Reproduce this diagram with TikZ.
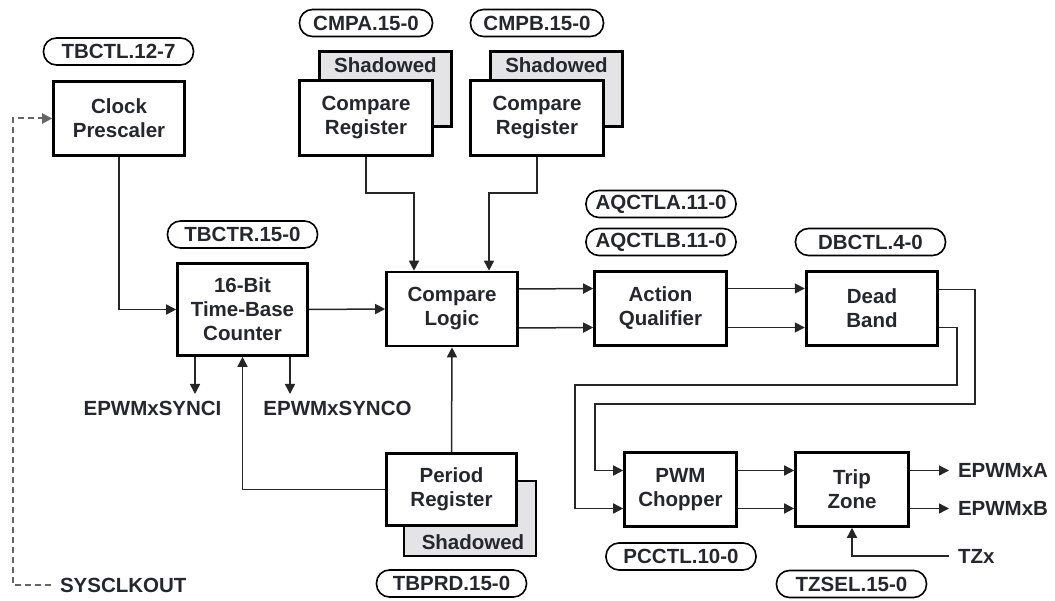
\documentclass[tikz,border=0pt]{standalone}
\usepackage{fontspec}
\setmainfont{Liberation Sans}
\usetikzlibrary{arrows.meta,calc}
\definecolor{ink}{HTML}{26262E}
\definecolor{shade}{HTML}{E4E4E6}
\begin{document}
\begin{tikzpicture}[x=1pt,y=-1pt,
    >={Triangle[length=10pt,width=10pt]},
    every node/.style={font=\fontsize{20.5}{24}\selectfont\bfseries,text=ink},
    blk/.style={draw=black,line width=2.6pt,fill=white,align=center,
                inner sep=0pt,minimum width=131pt,minimum height=74pt},
    shd/.style={draw=black,line width=2.6pt,fill=shade,
                minimum width=132pt,minimum height=75pt},
    reg/.style={draw=black,line width=1.6pt,rounded corners=13pt,
                inner sep=0pt,minimum width=150pt,minimum height=27pt},
    lbl/.style={inner sep=0pt,outer xsep=9pt},
    wire/.style={line width=1.5pt,draw=black!85},
    dwire/.style={line width=2pt,draw=black!60,dash pattern=on 6pt off 4pt}]
  \useasboundingbox (0,0) rectangle (1055,601);
  %-------------------------------------------------- clock and time base
  \node[reg] (tbctl) at (118.5,51.5) {TBCTL.12-7};
  \node[blk] (clk) at (119,118.5) {Clock\\Prescaler};
  \node[reg] (tbctr) at (242.5,234.5) {TBCTR.15-0};
  \node[blk,minimum height=92pt,minimum width=130pt] (tbc) at (242.5,309.5)
    {16-Bit\\Time-Base\\Counter};
  \node (synci) at (152.5,408) {EPWMxSYNCI};
  \node (synco) at (337.5,408) {EPWMxSYNCO};
  \node[lbl,anchor=west] (sysclk) at (51,585) {SYSCLKOUT};
  \coordinate (sitip) at (195,394);
  \coordinate (sotip) at (290,394);
  %-------------------------------------------------- compare registers
  \foreach \n/\x/\r in {a/366/CMPA.15-0,b/537/CMPB.15-0}{
    \node[shd] (s\n) at (\x+19.5,89) {};
    \node (s\n t) at ($(s\n.north)+(0,15)$) {Shadowed};
    \node[blk,minimum width=133pt,minimum height=75pt] (c\n) at (\x,118)
      {Compare\\Register};
    \node[reg,minimum width=133pt] (cmp\n) at (\x,23) {\r};
  }
  \node[blk] (cl) at (452,309) {Compare\\Logic};
  %-------------------------------------------------- period register
  \node[shd] (sp) at (470,518.5) {};
  \node (spt) at ($(sp.south)+(3,-15)$) {Shadowed};
  \node[blk,minimum width=130pt,minimum height=72pt] (pr) at (451.5,489.5)
    {Period\\Register};
  \node[reg] (tbprd) at (451.5,583.5) {TBPRD.15-0};
  %-------------------------------------------------- output chain
  \node[reg] (aqa) at (661,204) {AQCTLA.11-0};
  \node[reg] (aqb) at (661,242) {AQCTLB.11-0};
  \node[blk,minimum width=132pt] (aq) at (660.5,308.5) {Action\\Qualifier};
  \node[reg] (dbctl) at (870.5,242) {DBCTL.4-0};
  \node[blk] (db) at (872,308.5) {Dead\\Band};
  \node[blk,minimum width=112pt] (pc) at (680.5,489.5) {PWM\\Chopper};
  \node[reg] (pcctl) at (681,556.5) {PCCTL.10-0};
  \node[blk,minimum width=113pt] (tz) at (852,489.5) {Trip\\Zone};
  \node[reg] (tzsel) at (851.5,584) {TZSEL.15-0};
  \node[lbl,anchor=west] (epa) at (949,470.5) {EPWMxA};
  \node[lbl,anchor=west] (epb) at (949,508.5) {EPWMxB};
  \node[lbl,anchor=west] (tzx) at (949,556) {TZx};
  %-------------------------------------------------- connections
  \draw[dwire,->] (sysclk.west) -- ++(-38,0) |- (clk.west);
  \draw[wire,->] (clk.south) |- (tbc.west);
  \draw[wire,->] (tbc.east) -- (cl.west);
  \draw[wire,->] (tbc.south -| sitip) -- (sitip);
  \draw[wire,->] (tbc.south -| sotip) -- (sotip);
  \draw[wire,->] (ca.south) -- ++(0,36) -| ($(cl.north)+(-38,0)$);
  \draw[wire,->] (cb.south) -- ++(0,36) -| ($(cl.north)+(37,0)$);
  \draw[wire,->] (pr.west) -| (tbc.south);
  \draw[wire,->] (pr.north) -- (cl.south);
  \foreach \d in {-20,19}{
    \draw[wire,->] ($(cl.east)+(0,\d)$) -- ($(aq.west)+(0,\d)$);
    \draw[wire,->] ($(aq.east)+(0,\d)$) -- ($(db.east)+(-134,\d)$);
  }
  \draw[wire,->] ($(db.east)+(0,-19)$) -- ++(36,0) |- (595,404)
    |- ($(pc.west)+(0,-19)$);
  \draw[wire,->] ($(db.east)+(0,19)$) -- ++(18,0) |- (575,385)
    |- ($(pc.west)+(0,19)$);
  \foreach \d in {-19,19}
    \draw[wire,->] ($(pc.east)+(0,\d)$) -- ($(tz.west)+(0,\d)$);
  \draw[wire,->] (tz.east |- epa.west) -- (epa.west);
  \draw[wire,->] (tz.east |- epb.west) -- (epb.west);
  \draw[wire,->] (tzx.west) -| (tz.south);
\end{tikzpicture}
\end{document}
